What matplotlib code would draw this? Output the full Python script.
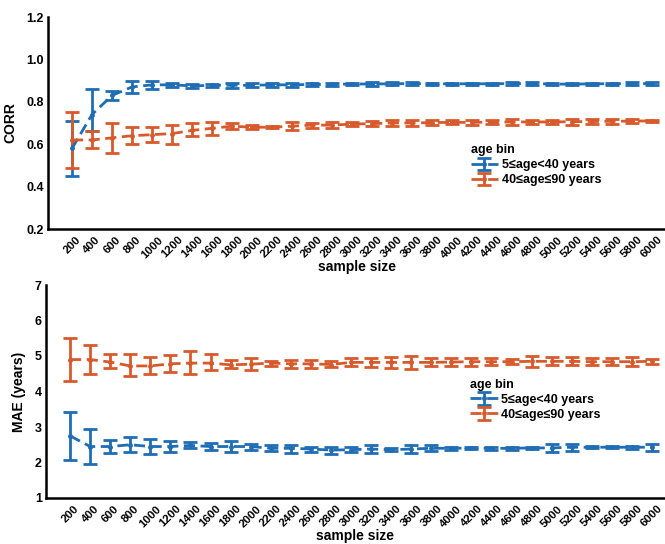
import numpy as np
import matplotlib.pyplot as plt

plt.rcParams['font.family'] = ['Liberation Sans', 'DejaVu Sans']
plt.rcParams['font.weight'] = 'bold'

sizes = [str(s) for s in range(200, 6001, 200)]

# CORR, 5<=age<40
corr_y = [0.58, 0.74, 0.83, 0.87, 0.88, 0.88, 0.875, 0.878, 0.878, 0.878,
          0.880, 0.880, 0.882, 0.882, 0.884, 0.884, 0.885, 0.886, 0.885, 0.885,
          0.885, 0.885, 0.886, 0.886, 0.884, 0.883, 0.885, 0.885, 0.886, 0.886]
corr_y_lo = [0.45, 0.66, 0.81, 0.84, 0.86, 0.87, 0.865, 0.870, 0.865, 0.868,
             0.872, 0.872, 0.876, 0.875, 0.878, 0.876, 0.877, 0.879, 0.879, 0.880,
             0.879, 0.879, 0.879, 0.879, 0.878, 0.879, 0.880, 0.880, 0.880, 0.879]
corr_y_hi = [0.71, 0.86, 0.85, 0.90, 0.90, 0.89, 0.885, 0.886, 0.891, 0.888,
             0.888, 0.888, 0.888, 0.889, 0.890, 0.892, 0.893, 0.893, 0.891, 0.890,
             0.891, 0.891, 0.893, 0.893, 0.890, 0.887, 0.890, 0.890, 0.892, 0.893]
# CORR, 40<=age<=90
corr_o = [0.62, 0.62, 0.63, 0.64, 0.645, 0.65, 0.665, 0.675, 0.685, 0.68,
          0.68, 0.685, 0.69, 0.69, 0.695, 0.697, 0.700, 0.700, 0.702, 0.703,
          0.703, 0.704, 0.705, 0.705, 0.705, 0.706, 0.707, 0.708, 0.709, 0.710]
corr_o_lo = [0.49, 0.58, 0.56, 0.60, 0.61, 0.60, 0.64, 0.645, 0.67, 0.67,
             0.675, 0.665, 0.675, 0.675, 0.687, 0.685, 0.685, 0.688, 0.692, 0.693,
             0.690, 0.695, 0.690, 0.695, 0.695, 0.692, 0.697, 0.697, 0.700, 0.706]
corr_o_hi = [0.75, 0.66, 0.70, 0.68, 0.68, 0.69, 0.70, 0.705, 0.70, 0.69,
             0.685, 0.705, 0.70, 0.705, 0.703, 0.709, 0.715, 0.712, 0.712, 0.713,
             0.716, 0.713, 0.720, 0.715, 0.715, 0.720, 0.717, 0.719, 0.718, 0.714]

# MAE, 5<=age<40
mae_y = [2.75, 2.45, 2.45, 2.50, 2.45, 2.45, 2.48, 2.45, 2.45, 2.45,
         2.40, 2.40, 2.38, 2.35, 2.36, 2.38, 2.36, 2.38, 2.40, 2.40,
         2.41, 2.40, 2.40, 2.41, 2.41, 2.43, 2.43, 2.43, 2.43, 2.43]
mae_y_lo = [2.07, 1.97, 2.28, 2.30, 2.25, 2.30, 2.40, 2.35, 2.30, 2.35,
            2.33, 2.28, 2.30, 2.25, 2.30, 2.28, 2.33, 2.27, 2.32, 2.35,
            2.37, 2.36, 2.36, 2.37, 2.30, 2.33, 2.40, 2.40, 2.39, 2.33]
mae_y_hi = [3.43, 2.95, 2.62, 2.72, 2.65, 2.60, 2.57, 2.55, 2.60, 2.53,
            2.48, 2.50, 2.45, 2.45, 2.43, 2.48, 2.40, 2.48, 2.48, 2.45,
            2.45, 2.44, 2.44, 2.45, 2.52, 2.53, 2.46, 2.46, 2.47, 2.53]
# MAE, 40<=age<=90
mae_o = [4.90, 4.90, 4.83, 4.72, 4.72, 4.78, 4.80, 4.80, 4.75, 4.77,
         4.80, 4.78, 4.78, 4.76, 4.82, 4.82, 4.82, 4.82, 4.82, 4.83,
         4.84, 4.84, 4.84, 4.85, 4.85, 4.85, 4.84, 4.84, 4.84, 4.85]
mae_o_lo = [4.30, 4.50, 4.65, 4.43, 4.48, 4.55, 4.48, 4.60, 4.65, 4.60,
            4.72, 4.65, 4.65, 4.68, 4.72, 4.70, 4.65, 4.62, 4.72, 4.72,
            4.72, 4.74, 4.77, 4.68, 4.74, 4.74, 4.74, 4.74, 4.73, 4.78]
mae_o_hi = [5.52, 5.30, 5.05, 5.05, 4.98, 5.03, 5.13, 5.05, 4.88, 4.95,
            4.87, 4.90, 4.90, 4.85, 4.93, 4.95, 4.98, 5.00, 4.93, 4.93,
            4.95, 4.95, 4.91, 5.00, 4.96, 4.96, 4.95, 4.95, 4.96, 4.92]

blue = '#1f6db5'
orange = '#d85a2c'
labels = ['5\u2264age<40 years', '40\u2264age\u226490 years']

fig = plt.figure(figsize=(6.65, 5.44), dpi=100)
ax1 = fig.add_axes([48/665, 1-229/544, 617/665, 212/544])
ax2 = fig.add_axes([46/665, 1-498/544, 619/665, 213/544])

x = np.arange(len(sizes))

def draw(ax, series, ylim, yticks, ylabel, leg_anchor):
    for y, lo, hi, c, lab in series:
        y = np.array(y)
        err = [y - np.array(lo), np.array(hi) - y]
        ax.errorbar(x, y, yerr=err, fmt='--', color=c, lw=2.0, elinewidth=2,
                    capsize=5, capthick=2, marker='o', ms=2.5, label=lab,
                    dashes=(4, 2))
    ax.set_xlim(-1.2, 29.65)
    ax.set_ylim(*ylim)
    ax.set_yticks(yticks)
    ax.set_xticks(x)
    ax.set_xticklabels(sizes, rotation=45, ha='center', fontsize=8.2,
                       fontweight='bold')
    for t in ax.get_yticklabels():
        t.set_fontweight('bold')
        t.set_fontsize(9)
    ax.tick_params(length=0, pad=3)
    ax.tick_params(axis='x', pad=4)
    for s in ['top', 'right']:
        ax.spines[s].set_visible(False)
    for s in ['left', 'bottom']:
        ax.spines[s].set_linewidth(1.8)
    ax.set_xlabel('sample size', fontsize=10, fontweight='bold', labelpad=0)
    ax.set_ylabel(ylabel, fontsize=10, fontweight='bold', labelpad=6)
    leg = ax.legend(title='age bin', frameon=False, loc='upper left',
                    bbox_to_anchor=leg_anchor, fontsize=9, title_fontsize=9,
                    handlelength=2.2, handletextpad=0.3, borderpad=0,
                    labelspacing=0.25, alignment='left')
    leg.get_title().set_fontweight('bold')
    for t in leg.get_texts():
        t.set_fontweight('bold')

draw(ax1, [(corr_y, corr_y_lo, corr_y_hi, blue, labels[0]),
           (corr_o, corr_o_lo, corr_o_hi, orange, labels[1])],
     (0.2, 1.2), [0.2, 0.4, 0.6, 0.8, 1.0, 1.2], 'CORR', (0.675, 0.43))
ax1.set_yticklabels(['0.2', '0.4', '0.6', '0.8', '1.0', '1.2'],
                    fontweight='bold', fontsize=9)

draw(ax2, [(mae_y, mae_y_lo, mae_y_hi, blue, labels[0]),
           (mae_o, mae_o_lo, mae_o_hi, orange, labels[1])],
     (1, 7), [1, 2, 3, 4, 5, 6, 7], 'MAE (years)', (0.675, 0.59))

fig.savefig('out.png', dpi=100)
